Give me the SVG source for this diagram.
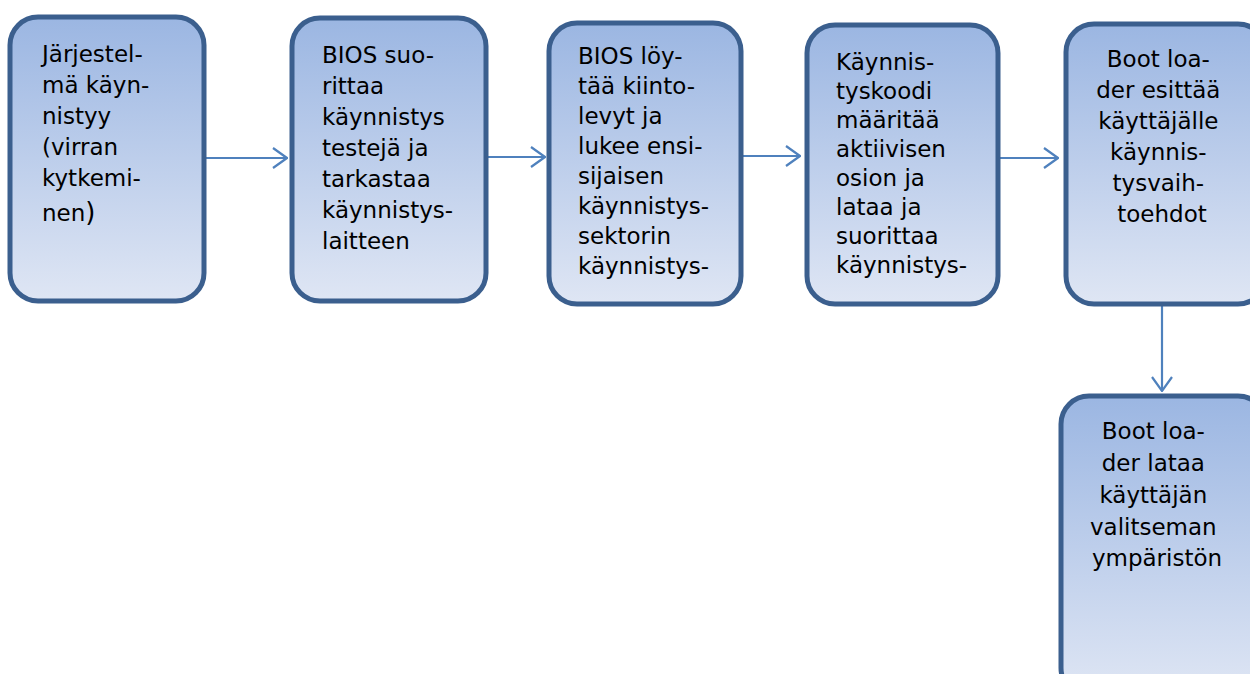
<svg xmlns="http://www.w3.org/2000/svg" width="1250" height="674" viewBox="0 0 1250 674">
  <style>
    .box { fill: url(#boxFill); stroke: #3b5f8e; stroke-width: 5; }
    .lbl { font-family: "DejaVu Sans", "Liberation Sans", sans-serif; font-size: 23px; fill: #000; }
    .mid { text-anchor: middle; }
    .conn { fill: none; stroke: #4f81bd; stroke-width: 2.2; marker-end: url(#openArrow); }
  </style>
  <defs>
    <linearGradient id="boxFill" x1="0" y1="0" x2="0" y2="1">
      <stop offset="0" stop-color="#9bb6e2"/>
      <stop offset="1" stop-color="#dfe6f4"/>
    </linearGradient>
    <marker id="openArrow" viewBox="0 0 16 22" refX="15" refY="11" markerWidth="16" markerHeight="22" markerUnits="userSpaceOnUse" orient="auto">
      <path d="M1,1 L15,11 L1,21" fill="none" stroke="#4f81bd" stroke-width="2.2"/>
    </marker>
  </defs>

  <g id="connectors">
    <path class="conn" d="M204,158 H287"/>
    <path class="conn" d="M488,157 H545"/>
    <path class="conn" d="M742,156 H800"/>
    <path class="conn" d="M1000,158 H1058"/>
    <path class="conn" d="M1162,304 V391"/>
  </g>

  <g id="node-start">
    <rect class="box" x="10" y="17" width="194" height="284" rx="28"/>
    <text class="lbl">
      <tspan x="42" y="62">Järjestel-</tspan>
      <tspan x="42" y="93">mä käyn-</tspan>
      <tspan x="42" y="124">nistyy</tspan>
      <tspan x="42" y="155">(virran</tspan>
      <tspan x="42" y="186">kytkemi-</tspan>
      <tspan x="42" y="221">nen<tspan font-size="26px">)</tspan></tspan>
    </text>
  </g>

  <g id="node-bios-post">
    <rect class="box" x="292" y="18" width="194" height="283" rx="28"/>
    <text class="lbl">
      <tspan x="322" y="63">BIOS suo-</tspan>
      <tspan x="322" y="94">rittaa</tspan>
      <tspan x="322" y="125">käynnistys</tspan>
      <tspan x="322" y="156">testejä ja</tspan>
      <tspan x="322" y="187">tarkastaa</tspan>
      <tspan x="322" y="218">käynnistys-</tspan>
      <tspan x="322" y="249">laitteen</tspan>
    </text>
  </g>

  <g id="node-bios-mbr">
    <rect class="box" x="549" y="23" width="192" height="281" rx="28"/>
    <text class="lbl">
      <tspan x="578" y="64">BIOS löy-</tspan>
      <tspan x="578" y="94">tää kiinto-</tspan>
      <tspan x="578" y="124">levyt ja</tspan>
      <tspan x="578" y="154">lukee ensi-</tspan>
      <tspan x="578" y="184">sijaisen</tspan>
      <tspan x="578" y="214">käynnistys-</tspan>
      <tspan x="578" y="244">sektorin</tspan>
      <tspan x="578" y="274">käynnistys-</tspan>
    </text>
  </g>

  <g id="node-boot-code">
    <rect class="box" x="807" y="25" width="191" height="279" rx="28"/>
    <text class="lbl">
      <tspan x="836" y="70">Käynnis-</tspan>
      <tspan x="836" y="99">tyskoodi</tspan>
      <tspan x="836" y="128">määritää</tspan>
      <tspan x="836" y="157">aktiivisen</tspan>
      <tspan x="836" y="186">osion ja</tspan>
      <tspan x="836" y="215">lataa ja</tspan>
      <tspan x="836" y="244">suorittaa</tspan>
      <tspan x="836" y="273">käynnistys-</tspan>
    </text>
  </g>

  <g id="node-boot-menu">
    <rect class="box" x="1066" y="24" width="200" height="280" rx="28"/>
    <text class="lbl mid">
      <tspan x="1162" y="67">Boot loa-</tspan>
      <tspan x="1162" y="98">der esittää</tspan>
      <tspan x="1162" y="129">käyttäjälle</tspan>
      <tspan x="1162" y="160">käynnis-</tspan>
      <tspan x="1162" y="191">tysvaih-</tspan>
      <tspan x="1162" y="222">toehdot</tspan>
    </text>
  </g>

  <g id="node-boot-load">
    <rect class="box" x="1061" y="396" width="205" height="300" rx="28"/>
    <text class="lbl mid">
      <tspan x="1157" y="439">Boot loa-</tspan>
      <tspan x="1157" y="471">der lataa</tspan>
      <tspan x="1157" y="503">käyttäjän</tspan>
      <tspan x="1157" y="535">valitseman</tspan>
      <tspan x="1157" y="566">ympäristön</tspan>
    </text>
  </g>
</svg>
